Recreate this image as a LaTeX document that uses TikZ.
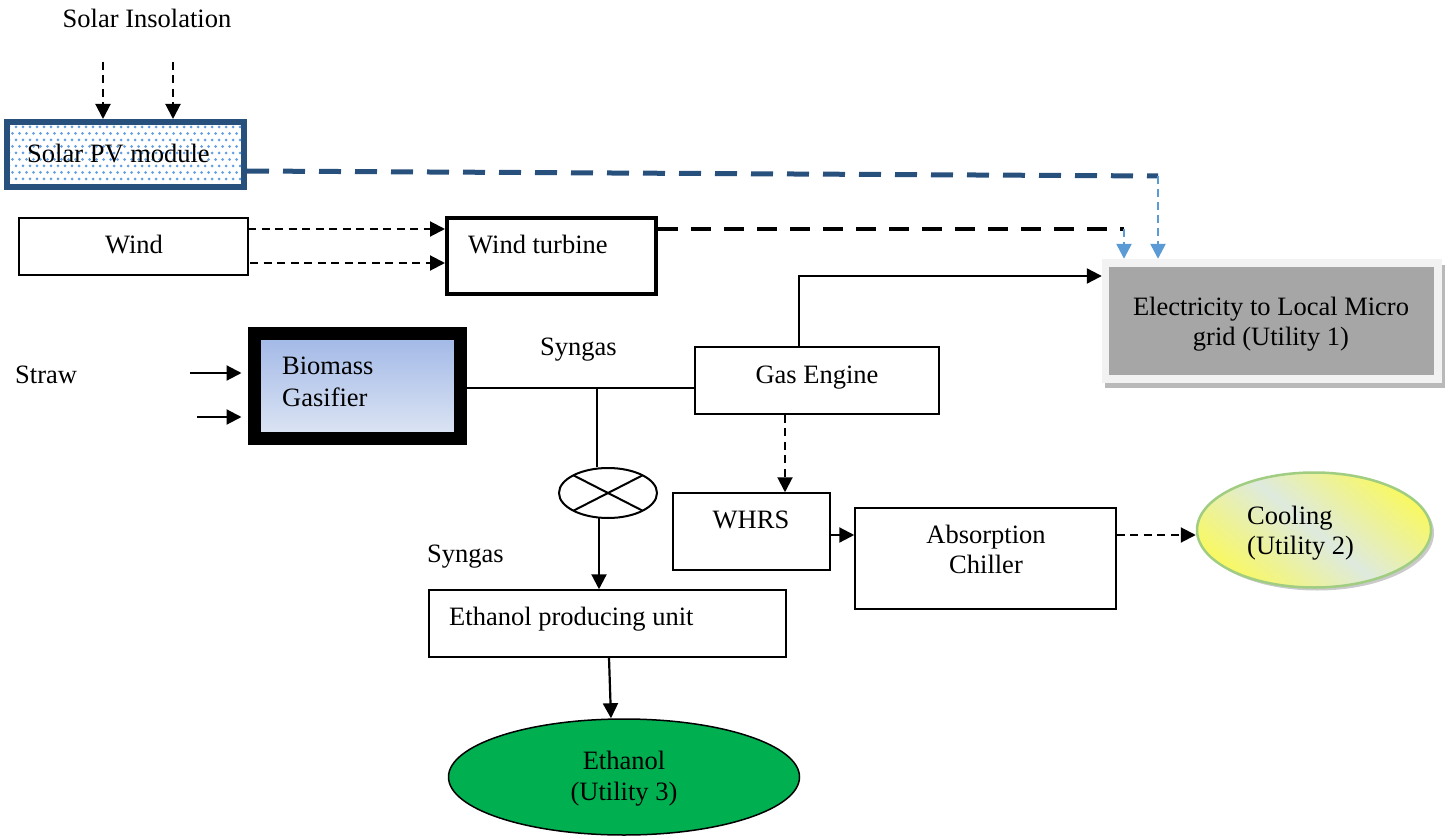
\documentclass[tikz,border=0pt]{standalone}
\usepackage{fontspec}
\setmainfont{Liberation Serif}
\usetikzlibrary{arrows.meta,shapes.geometric,shadows}
\definecolor{pvblue}{RGB}{40,80,125}
\definecolor{ltblue}{RGB}{91,155,213}
\definecolor{dotblue}{RGB}{100,160,225}
\definecolor{framegray}{RGB}{242,242,242}
\definecolor{midgray}{RGB}{166,166,166}
\definecolor{shadgray}{RGB}{185,185,185}
\definecolor{bgtop}{RGB}{160,183,230}
\definecolor{bgbot}{RGB}{222,230,244}
\definecolor{coolyel}{RGB}{248,248,100}
\definecolor{coolmid}{RGB}{222,234,222}
\definecolor{coolbrd}{RGB}{160,205,130}
\definecolor{ethgreen}{RGB}{0,176,80}
\tikzset{
  box/.style={draw, line width=1.5pt, inner sep=0pt, fill=white},
  lbl/.style={inner sep=0pt, anchor=base},
  lblw/.style={inner sep=0pt, anchor=base west},
  arrowtip/.style={-{Triangle[length=15pt,width=15pt]}},
  thindash/.style={line width=2pt, dash pattern=on 8pt off 5.5pt},
  solidln/.style={line width=2.2pt},
}
\begin{document}
\begin{tikzpicture}[x=1pt,y=-1pt,font=\fontsize{26.5}{31}\selectfont]
\useasboundingbox (0,0) rectangle (1451,837);

% ---------- Solar PV ----------
\node[lbl] (sins) at (147,28) {Solar Insolation};
\node[draw=pvblue, line width=6pt, fill=white, inner sep=0pt,
      minimum width=237pt, minimum height=65pt] (pv) at (125.5,154.5) {};
\begin{scope}
  \clip (10,125) rectangle (241,184);
  \foreach \i in {0,...,35}
    \foreach \j in {0,...,9}
      \fill[dotblue] ({9+7*\i+3.5*mod(\j,2)},{127+6.5*\j}) circle (1.5);
\end{scope}
\node[lblw] (pvt) at (27,163) {Solar PV module};
\coordinate (si1) at (103,62);
\coordinate (si2) at (173,62);
\draw[thindash,arrowtip] (si1) -- (si1 |- pv.north);
\draw[thindash,arrowtip] (si2) -- (si2 |- pv.north);

% ---------- Wind ----------
\node[box, minimum width=229pt, minimum height=57pt] (wind) at (133.5,246.5) {};
\node[lbl] (windt) at (134,254) {Wind};
\node[box, line width=4pt, minimum width=209pt, minimum height=76pt] (wt) at (551.5,256) {};
\node[lblw] (wtt) at (468,254) {Wind turbine};
\coordinate (w1) at (248,229);
\coordinate (w2) at (250,263);
\draw[thindash,arrowtip] (w1) -- (w1 -| wt.west);
\draw[thindash,arrowtip] (w2) -- (w2 -| wt.west);

% ---------- Electricity ----------
\fill[shadgray] (1105,265) rectangle (1445,388);
\node[fill=framegray, inner sep=0pt, minimum width=340pt, minimum height=124pt] (elec) at (1272,321) {};
\node[fill=midgray, inner sep=0pt, minimum width=325pt, minimum height=108pt] (elecin) at (1271.5,321) {};
\node[lbl] (elt1) at (1271,315) {Electricity to Local Micro};
\node[lbl] (elt2) at (1271,345) {grid (Utility 1)};

% PV line to grid
\coordinate (c1) at (1158,176);
\draw[pvblue, line width=5pt, dash pattern=on 22pt off 14pt] ([yshift=-16.5pt]pv.east) -- (c1);
\draw[ltblue, line width=2.5pt, dash pattern=on 8pt off 5pt, -{Triangle[length=15pt,width=15pt]}] (c1) -- (c1 |- elec.north);
% Wind turbine line to grid
\coordinate (c2) at (1124,229);
\draw[line width=4pt, dash pattern=on 20pt off 13pt] ([yshift=27pt]wt.east) -- (c2);
\draw[ltblue, line width=2.5pt, dash pattern=on 8pt off 5pt, -{Triangle[length=15pt,width=15pt]}] (c2) -- (c2 |- elec.north);

% ---------- Biomass ----------
\node[draw=black, line width=13pt, inner sep=0pt, top color=bgtop, bottom color=bgbot,
      minimum width=206pt, minimum height=105pt] (bg) at (357.5,386) {};
\node[lblw] (bgt1) at (282,374) {Biomass};
\node[lblw] (bgt2) at (282,406) {Gasifier};
\node[lblw] (straw) at (15,383) {Straw};
\coordinate (s1) at (190,373);
\coordinate (s2) at (197,417);
\draw[solidln,arrowtip,shorten >=6.5pt] (s1) -- (s1 -| bg.west);
\draw[solidln,arrowtip,shorten >=6.5pt] (s2) -- (s2 -| bg.west);

% ---------- Gas engine ----------
\node[box, minimum width=244pt, minimum height=67pt] (ge) at (817,380.5) {};
\node[lbl] (get) at (817,383) {Gas Engine};
\node[lblw] (syn1) at (540,355) {Syngas};
\coordinate (j) at (597,388);
\draw[line width=1.5pt] (j -| bg.east) -- (j -| ge.west);

\coordinate (g1) at (799,276);
\draw[solidln,arrowtip] (g1 |- ge.north) -- (g1) -- (g1 -| elec.west);

% ---------- Valve ----------
\node[ellipse, draw, line width=2pt, inner sep=0pt, minimum width=98pt, minimum height=50pt] (valve) at (608,493) {};
\draw[line width=2pt] ([shift={(-34.6,-17.7)}]valve.center) -- ([shift={(34.6,17.7)}]valve.center);
\draw[line width=2pt] ([shift={(-34.6,17.7)}]valve.center) -- ([shift={(34.6,-17.7)}]valve.center);
\draw[line width=1.5pt] (j) -- (j |- valve.north);
\coordinate (v2) at (599,518);
\node[lblw] (syn2) at (427,562) {Syngas};

% ---------- Ethanol unit ----------
\node[box, minimum width=357pt, minimum height=67pt] (epu) at (607.5,623.5) {};
\node[lblw] (eput) at (449,625) {Ethanol producing unit};
\draw[solidln,arrowtip] (v2) -- (v2 |- epu.north);
\node[ellipse, draw, line width=1.5pt, fill=ethgreen, inner sep=0pt,
      minimum width=351pt, minimum height=116pt] (eth) at (624,777) {};
\node[lbl] (etht1) at (624,769) {Ethanol};
\node[lbl] (etht2) at (624,800) {(Utility 3)};
\draw[solidln,arrowtip] ([xshift=1.5pt]epu.south) -- ([xshift=-13pt]eth.north);

% ---------- WHRS / chiller ----------
\node[box, minimum width=157pt, minimum height=77pt] (whrs) at (751.5,531.5) {};
\node[lbl] (whrst) at (751,528) {WHRS};
\coordinate (gx) at (785,0);
\draw[thindash,arrowtip] (gx |- ge.south) -- (gx |- whrs.north);
\node[box, minimum width=261pt, minimum height=101pt] (ac) at (985.5,558.5) {};
\node[lbl] (act1) at (986,543) {Absorption};
\node[lbl] (act2) at (986,573) {Chiller};
\coordinate (h) at (830,535);
\draw[solidln,arrowtip] (h -| whrs.east) -- (h -| ac.west);

% ---------- Cooling ----------
\node[ellipse, draw=coolbrd, line width=2.5pt, inner sep=0pt,
      top color=coolyel, bottom color=coolyel, middle color=coolmid, shading angle=-40,
      drop shadow={shadow xshift=3pt, shadow yshift=-3pt, fill=gray!70, opacity=0.6},
      minimum width=234pt, minimum height=115pt] (cool) at (1314,530) {};
\node[lblw] (coolt1) at (1247,524) {Cooling};
\node[lblw] (coolt2) at (1247,554) {(Utility 2)};
\draw[thindash,arrowtip] (h -| ac.east) -- (h -| cool.west);
\end{tikzpicture}
\end{document}
